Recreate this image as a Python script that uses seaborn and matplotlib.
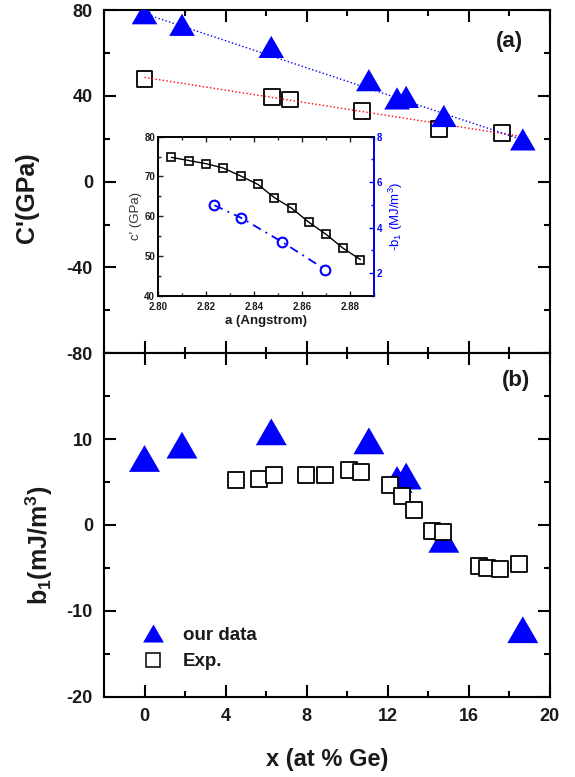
import numpy as np
import pandas as pd
import seaborn as sns
import matplotlib.pyplot as plt
from matplotlib.ticker import MultipleLocator
from matplotlib.lines import Line2D

# --- main panels, x = at % Ge ---
x_our = [0, 1.85, 6.26, 11.08, 12.47, 12.92, 14.78, 18.68]
cprime_our = [78.5, 73.1, 62.8, 47.3, 38.8, 39.5, 30.6, 19.7]
b1_our = [7.75, 9.3, 10.85, 9.8, 5.3, 5.7, -1.67, -12.2]

x_exp_c = [0, 6.31, 7.17, 10.74, 14.56, 17.65]
cprime_exp = [47.9, 39.5, 38.3, 32.9, 24.4, 22.5]

x_exp_b = [4.54, 5.63, 6.41, 7.99, 8.91, 10.09, 10.67, 12.12, 12.72, 13.30,
           14.19, 14.75, 16.51, 16.91, 17.53, 18.47]
b1_exp = [5.2, 5.3, 5.8, 5.8, 5.8, 6.4, 6.2, 4.6, 3.4, 1.8,
          -0.7, -0.8, -4.8, -5.0, -5.15, -4.55]

# dotted guide lines (end points)
guide_x = [0, 18.7]
guide_our = [78.3, 19.4]
guide_exp = [48.6, 20.9]

# --- inset ---
a_sq = [2.8056, 2.8128, 2.8201, 2.8272, 2.8345, 2.8416, 2.8484, 2.8557,
        2.8628, 2.8701, 2.8772, 2.8843]
c_sq = [74.8, 74.0, 73.2, 72.1, 70.1, 68.0, 64.7, 62.0, 58.5, 55.4, 51.9, 49.1]
a_circ = [2.8235, 2.8346, 2.8518, 2.8697]
b_circ = [4.98, 4.43, 3.36, 2.15]

sns.set_style('ticks')
plt.rcParams['font.family'] = ['Liberation Sans', 'DejaVu Sans']
plt.rcParams['font.weight'] = 'bold'
plt.rcParams['axes.labelweight'] = 'bold'
plt.rcParams['mathtext.default'] = 'regular'
plt.rcParams['axes.unicode_minus'] = False
TXT = '#1a1a1a'

# equilateral triangle marker
tri = [(0, 0.433), (-0.5, -0.433), (0.5, -0.433)]

fig = plt.figure(figsize=(5.75, 7.77), dpi=100)
ax1 = fig.add_axes([0.1809, 0.5453, 0.7748, 0.4418])
ax2 = fig.add_axes([0.1809, 0.1034, 0.7748, 0.4419])

# (a) C'
ax1.plot(guide_x, guide_exp, ls=':', color='red', lw=1, zorder=3)
ax1.plot(guide_x, guide_our, ls=':', color='blue', lw=1, zorder=3)
sns.scatterplot(x=x_exp_c, y=cprime_exp, ax=ax1, marker='s', s=132,
                color='black', facecolors='none', edgecolor='black',
                linewidth=1.3, zorder=2)
sns.scatterplot(x=x_our, y=cprime_our, ax=ax1, marker=tri, s=340,
                color='blue', edgecolor='none', linewidth=0, zorder=4)

# (b) b1
sns.scatterplot(x=x_our, y=b1_our, ax=ax2, marker=tri, s=497,
                color='blue', edgecolor='none', linewidth=0, zorder=2)
sns.scatterplot(x=x_exp_b, y=b1_exp, ax=ax2, marker='s', s=132,
                color='black', facecolors='white', edgecolor='black',
                linewidth=1.3, zorder=3)

for ax in (ax1, ax2):
    ax.set_xlim(-2, 20)
    ax.xaxis.set_major_locator(MultipleLocator(4))
    ax.xaxis.set_minor_locator(MultipleLocator(2))
    ax.tick_params(which='both', direction='in', top=True, right=True,
                   width=1.5, labelsize=13, colors='black', labelcolor=TXT)
    ax.tick_params(which='major', length=8.5, pad=8)
    ax.tick_params(which='minor', length=4.3)
    for sp in ax.spines.values():
        sp.set_linewidth(1.5)
        sp.set_color('black')

ax1.set_ylim(-80, 80)
ax1.set_yticks([-80, -40, 0, 40, 80])
ax1.yaxis.set_minor_locator(MultipleLocator(20))
ax1.tick_params(labelbottom=False)
ax1.set_ylabel("C'(GPa)", fontsize=18, color=TXT)
ax1.yaxis.set_label_coords(-0.145, 0.454)
ax1.text(18.02, 65.1, '(a)', fontsize=16, fontweight='bold', color=TXT,
         ha='center', va='center')

ax2.set_ylim(-20, 20)
ax2.set_yticks([-20, -10, 0, 10])
ax2.yaxis.set_minor_locator(MultipleLocator(5))
ax2.set_ylabel('b$_1$(mJ/m$^3$)', fontsize=18, color=TXT)
ax2.yaxis.set_label_coords(-0.11, 0.442)
ax2.set_xlabel('x (at % Ge)', fontsize=17, color=TXT)
ax2.xaxis.set_label_coords(0.5, -0.149)
ax2.text(18.33, 16.8, '(b)', fontsize=16, fontweight='bold', color=TXT,
         ha='center', va='center')

handles = [Line2D([], [], ls='none', marker=tri, ms=15, color='blue', mew=0),
           Line2D([], [], ls='none', marker='s', ms=10, mfc='white',
                  mec='black', mew=1.1)]
leg = ax2.legend(handles, ['our data', 'Exp.'], loc='lower left',
                 bbox_to_anchor=(0.062, 0.05), frameon=False,
                 prop=dict(weight='bold', size=13.5), handlelength=1.3,
                 handletextpad=0.95, labelspacing=0.5, borderpad=0)
for t in leg.get_texts():
    t.set_color(TXT)

# inset
axin = fig.add_axes([0.2748, 0.6194, 0.3757, 0.2047])
axin2 = axin.twinx()
sns.lineplot(x=a_sq, y=c_sq, ax=axin, color='black', lw=1, marker='s',
             markersize=5.5, markerfacecolor='none', markeredgecolor='black',
             markeredgewidth=1.2)
sns.lineplot(x=a_circ, y=b_circ, ax=axin2, color='blue', lw=1.3,
             linestyle=(0, (5, 3, 1, 3)), marker='o', markersize=7,
             markerfacecolor='none', markeredgecolor='blue',
             markeredgewidth=1.5)

axin.set_xlim(2.80, 2.89)
axin.set_ylim(40, 80)
axin.set_xticks([2.80, 2.82, 2.84, 2.86, 2.88])
axin.set_xticklabels(['2.80', '2.82', '2.84', '2.86', '2.88'])
axin.xaxis.set_minor_locator(MultipleLocator(0.01))
axin.yaxis.set_major_locator(MultipleLocator(10))
axin.yaxis.set_minor_locator(MultipleLocator(5))
axin.tick_params(which='both', direction='in', top=True, right=False,
                 width=1, labelsize=7, pad=2, labelcolor=TXT)
axin.tick_params(axis='x', pad=4.5)
axin.tick_params(which='major', length=3.5)
axin.tick_params(which='minor', length=2)
axin.set_xlabel('a (Angstrom)', fontsize=9.5, fontweight='bold', color=TXT,
                labelpad=2)
axin.set_ylabel("c' (GPa)", fontsize=9.5, fontweight='normal', color='#333333',
                labelpad=2)

axin2.set_ylim(1, 8)
axin2.yaxis.set_major_locator(MultipleLocator(2))
axin2.yaxis.set_minor_locator(MultipleLocator(1))
axin2.tick_params(axis='y', which='both', direction='in', width=1,
                  labelsize=7, pad=2, colors='blue')
axin2.tick_params(axis='y', which='major', length=3.5)
axin2.tick_params(axis='y', which='minor', length=2)
axin2.set_ylabel('-b$_1$ (MJ/m$^3$)', fontsize=9.5, fontweight='normal',
                 color='blue', labelpad=3)
for sp in axin.spines.values():
    sp.set_linewidth(1.2)
    sp.set_color('black')
for name, sp in axin2.spines.items():
    sp.set_linewidth(1.2)
    sp.set_color('blue' if name == 'right' else 'black')

fig.savefig('out.png', dpi=100)
